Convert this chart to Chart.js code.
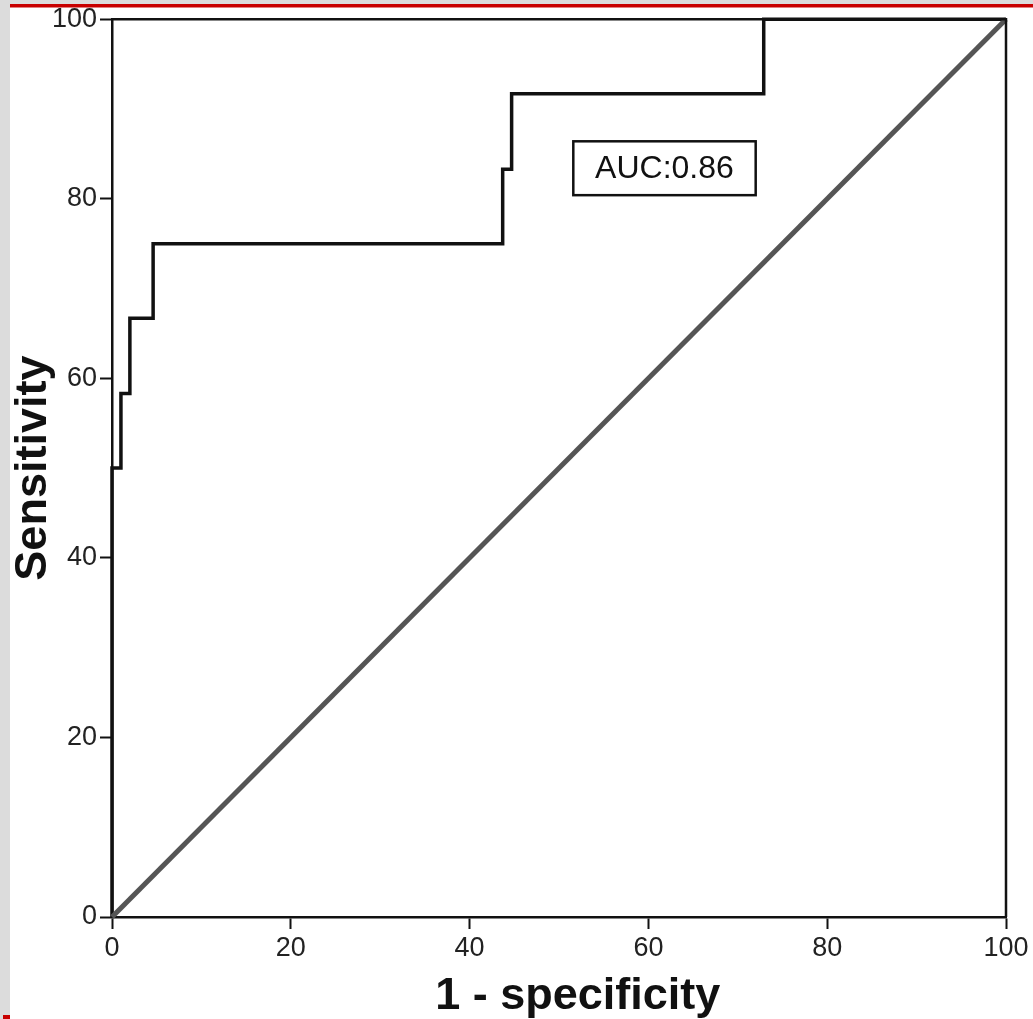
<html>
<head>
    <meta charset="UTF-8">
    <script src="https://cdn.jsdelivr.net/npm/chart.js"></script>
    <title>ROC</title>
    <style>
        body { margin: 0; background: #fff; }
    </style>
</head>
<body>
    <canvas id="roc" width="1033" height="1019"></canvas>
    <script>
        // ROC curve corners (1 - specificity, sensitivity)
        const rocX = [0, 0, 1.0, 1.0, 2.0, 2.0, 4.6, 4.6, 43.7, 43.7, 44.7, 44.7, 72.9, 72.9, 100];
        const rocY = [0, 50, 50, 58.3, 58.3, 66.7, 66.7, 75, 75, 83.3, 83.3, 91.7, 91.7, 100, 100];
        // reference diagonal
        const diagX = [0, 100];
        const diagY = [0, 100];
        const aucText = 'AUC:0.86';
        const aucBox = { x1: 51.6, x2: 72.0, y1: 80.4, y2: 86.4 };

        const fontFamily = "'Liberation Sans', Arial, sans-serif";

        const rocPoints = rocX.map((x, i) => ({ x: x, y: rocY[i] }));
        const diagPoints = diagX.map((x, i) => ({ x: x, y: diagY[i] }));

        const decor = {
            id: 'decor',
            beforeDraw(chart) {
                const ctx = chart.ctx;
                ctx.save();
                ctx.fillStyle = '#fff';
                ctx.fillRect(0, 0, chart.width, chart.height);
                ctx.fillStyle = '#dcdcdc';
                ctx.fillRect(0, 0, chart.width, 4);
                ctx.fillRect(0, 0, 10, chart.height);
                ctx.fillStyle = '#c80000';
                ctx.fillRect(10, 4, chart.width - 10, 3.5);
                ctx.fillRect(3, 1015, 7, 4);
                ctx.restore();
            },
            afterDraw(chart) {
                const ctx = chart.ctx;
                const a = chart.chartArea;
                const xs = chart.scales.x, ys = chart.scales.y;
                ctx.save();
                // frame on top and right
                ctx.strokeStyle = '#111';
                ctx.lineWidth = 2.5;
                ctx.beginPath();
                ctx.moveTo(a.left, a.top);
                ctx.lineTo(a.right, a.top);
                ctx.lineTo(a.right, a.bottom);
                ctx.stroke();
                // AUC label
                const bx1 = xs.getPixelForValue(aucBox.x1);
                const bx2 = xs.getPixelForValue(aucBox.x2);
                const by1 = ys.getPixelForValue(aucBox.y2);
                const by2 = ys.getPixelForValue(aucBox.y1);
                ctx.fillStyle = '#fff';
                ctx.fillRect(bx1, by1, bx2 - bx1, by2 - by1);
                ctx.lineWidth = 2.5;
                ctx.strokeRect(bx1, by1, bx2 - bx1, by2 - by1);
                ctx.fillStyle = '#111';
                ctx.font = '32px ' + fontFamily;
                ctx.textAlign = 'center';
                ctx.textBaseline = 'middle';
                ctx.fillText(aucText, (bx1 + bx2) / 2, (by1 + by2) / 2 + 1);
                ctx.restore();
            }
        };

        const axisCommon = {
            type: 'linear',
            min: 0,
            max: 100,
            border: { display: true, color: '#111', width: 2.5 },
            grid: { drawOnChartArea: false, drawTicks: true, tickLength: 12, color: '#111', tickWidth: 2 },
            ticks: {
                stepSize: 20,
                color: '#222',
                font: { family: fontFamily, size: 27 },
                padding: 3
            }
        };

        const config = {
            type: 'scatter',
            data: {
                datasets: [
                    {
                        label: 'Reference',
                        data: diagPoints,
                        showLine: true,
                        borderColor: '#555',
                        borderWidth: 5,
                        pointRadius: 0,
                        clip: false
                    },
                    {
                        label: 'ROC',
                        data: rocPoints,
                        showLine: true,
                        borderColor: '#111',
                        borderWidth: 3.5,
                        pointRadius: 0,
                        clip: false
                    }
                ]
            },
            options: {
                responsive: false,
                animation: false,
                devicePixelRatio: 1,
                layout: { padding: { top: 19, right: 27, left: 0, bottom: 0 } },
                plugins: {
                    legend: { display: false },
                    tooltip: { enabled: false }
                },
                scales: {
                    x: Object.assign({}, axisCommon, {
                        position: 'bottom',
                        title: {
                            display: true,
                            text: '   1 - specificity',
                            color: '#111',
                            font: { family: fontFamily, size: 45, weight: 'bold' },
                            padding: { top: 0, bottom: -5 }
                        },
                        afterFit(scale) { scale.height = 102; }
                    }),
                    y: Object.assign({}, axisCommon, {
                        position: 'left',
                        title: {
                            display: true,
                            text: 'Sensitivity',
                            color: '#111',
                            font: { family: fontFamily, size: 45, weight: 'bold' },
                            padding: { top: 7, bottom: 0 }
                        },
                        afterFit(scale) { scale.width = 112; }
                    })
                }
            },
            plugins: [decor]
        };

        const rocChart = new Chart(document.getElementById('roc'), config);
    </script>
</body>
</html>
